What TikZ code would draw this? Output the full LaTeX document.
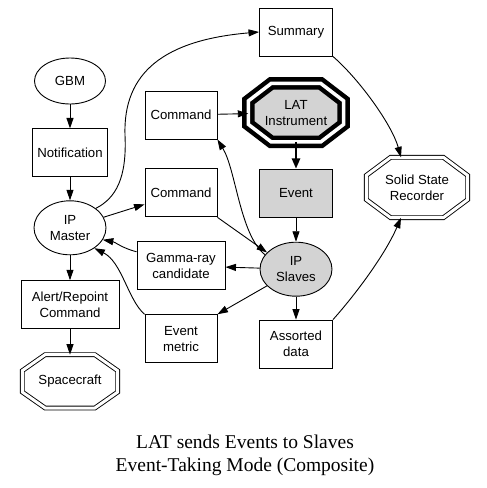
\documentclass[tikz,border=0pt]{standalone}
\usepackage{fontspec}
\setmainfont{Liberation Serif}
\setsansfont{Liberation Sans}
\usepackage{xcolor}
\usepackage{tikz}
\usetikzlibrary{shapes.geometric,arrows.meta,positioning,calc,backgrounds}

\definecolor{evgray}{HTML}{D3D3D3}

\newcommand{\octpath}[1]{($(#1.north west)!.24!(#1.north east)$) -- ($(#1.north west)!.76!(#1.north east)$)
  -- ($(#1.north east)!.3!(#1.south east)$) -- ($(#1.north east)!.7!(#1.south east)$)
  -- ($(#1.south west)!.76!(#1.south east)$) -- ($(#1.south west)!.24!(#1.south east)$)
  -- ($(#1.north west)!.7!(#1.south west)$) -- ($(#1.north west)!.3!(#1.south west)$) -- cycle}

\begin{document}
\begin{tikzpicture}[
  x=1pt, y=-1pt,
  every node/.style={font=\sffamily\fontsize{13.2}{16}\selectfont},
  box/.style={draw, line width=0.9pt, minimum width=72pt, minimum height=48pt, align=center},
  oval/.style={draw, ellipse, line width=0.9pt, minimum width=72pt, minimum height=54pt, align=center},
  octo/.style={minimum width=95pt, minimum height=53pt, align=center},
  dbl/.style={line width=0.9pt, double, double distance=3pt},
  bolddbl/.style={line width=4.5pt, double, double distance=3.5pt},
  arrow/.style={-{Triangle[length=10.5pt, width=7pt]}, line width=0.9pt},
  thickarrow/.style={-{Triangle[length=10.5pt, width=8pt]}, line width=2.6pt}
]
  \useasboundingbox (0,0) rectangle (487,488);

  \node[oval, minimum width=71pt, minimum height=46pt] (gbm) at (70,81) {GBM};
  \node[box, minimum width=75pt, below=24pt of gbm] (notif) {Notification};
  \node[oval, below=23pt of notif] (master) {IP\\Master};
  \node[box, minimum width=98pt, below=25pt of master] (alert) {Alert/Repoint\\Command};
  \node[octo, below=25.5pt of alert] (craft) {Spacecraft};

  \node[box] (cmdA) at (181,115) {Command};
  \node[box, below=29pt of cmdA] (cmdB) {Command};
  \node[box, minimum width=88pt, below=24pt of cmdB] (gamma) {Gamma-ray\\candidate};
  \node[box, below=24pt of gamma] (metric) {Event\\metric};

  \node[box, minimum width=73pt] (summary) at (296,32) {Summary};
  \node[octo, minimum height=58pt, below=27pt of summary] (lat) {LAT\\Instrument};
  \node[box, minimum width=73pt, fill=evgray, below=27pt of lat] (event) {Event};
  \node[oval, fill=evgray, below=24pt of event] (slaves) {IP\\Slaves};
  \node[box, minimum width=73pt, below=23pt of slaves] (assorted) {Assorted\\data};

  \node[octo, minimum width=101pt, minimum height=60pt] (ssr) at (417,187.5) {Solid State\\Recorder};

  \node[font=\rmfamily\fontsize{19.5}{23}\selectfont, align=center] (title) at (245,455)
    {LAT sends Events to Slaves\\Event-Taking Mode (Composite)};

  \begin{scope}[on background layer]
    \fill[evgray] \octpath{lat};
  \end{scope}
  \draw[bolddbl] \octpath{lat};
  \draw[dbl] \octpath{craft};
  \draw[dbl] \octpath{ssr};

  \draw[arrow] (gbm) -- (notif);
  \draw[arrow] (notif) -- (master);
  \draw[arrow] (master) -- (alert);
  \draw[arrow] (alert) -- (craft);
  \draw[arrow] (master) -- (cmdB);
  \draw[arrow] (master.north east) .. controls (116,198) and (127,178) .. (125,135)
    .. controls (123,72) and (165,40) .. (summary.west);
  \draw[arrow] (cmdA) -- (lat);
  \draw[thickarrow] (lat) -- (event);
  \draw[arrow] (event) -- (slaves);
  \draw[arrow] (summary.south east) .. controls (360,80) and (392,125) .. ([xshift=-16pt]ssr.north);
  \draw[arrow] (assorted.north east) .. controls (355,295) and (385,255) .. ([xshift=-16pt]ssr.south);
  \draw[arrow] (slaves.155) .. controls (240,235) and (236,170) .. (cmdA.south east);
  \draw[arrow] (cmdB.south east) -- (slaves.150);
  \draw[arrow] (slaves) -- (gamma);
  \draw[arrow] ([yshift=14pt]gamma.west) .. controls (122,248) and (115,242) .. (master.-20);
  \draw[arrow] (metric.north west) .. controls (128,300) and (122,262) .. (master.-40);
  \draw[arrow] (slaves) -- (metric.north east);
  \draw[arrow] (slaves) -- (assorted);
\end{tikzpicture}
\end{document}
